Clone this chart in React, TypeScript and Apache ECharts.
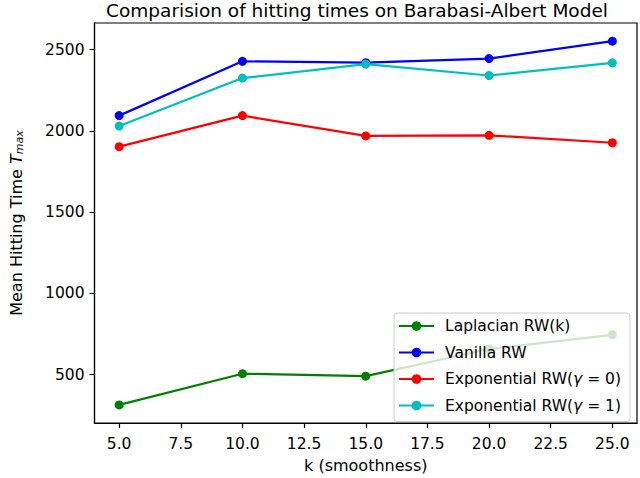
import React, { useEffect, useRef } from "react";
import * as echarts from "echarts";

const kValues = [5, 10, 15, 20, 25];
const laplacian = [314, 506, 491, 658, 745];
const vanilla = [2094, 2428, 2420, 2445, 2552];
const expGamma0 = [1903, 2094, 1969, 1973, 1927];
const expGamma1 = [2030, 2325, 2411, 2341, 2419];

const xTicks = [5, 7.5, 10, 12.5, 15, 17.5, 20, 22.5, 25];
const yTicks = [500, 1000, 1500, 2000, 2500];

const seriesNames = [
  "Laplacian RW(k)",
  "Vanilla RW",
  "Exponential RW(γ = 0)",
  "Exponential RW(γ = 1)",
];
const seriesColors = ["#008000", "#0000ff", "#ff0000", "#00bfbf"];

const FONT = "DejaVu Sans";

export default function App() {
  const ref = useRef<HTMLDivElement>(null);
  useEffect(() => {
    if (!ref.current) return;
    const chart = echarts.init(ref.current, null, { renderer: "svg" });
    const allSeries = [laplacian, vanilla, expGamma0, expGamma1];
    const all = allSeries.flat();
    const dMin = Math.min(...all);
    const dMax = Math.max(...all);
    const pad = (dMax - dMin) * 0.05;
    const xPad = (kValues[kValues.length - 1] - kValues[0]) * 0.05;

    chart.setOption({
      animation: false,
      textStyle: { fontFamily: FONT },
      title: {
        text: "Comparision of hitting times on Barabasi-Albert Model",
        left: 357,
        top: 1,
        padding: 0,
        textAlign: "center",
        textStyle: { fontFamily: FONT, fontSize: 18.5, fontWeight: "normal", color: "#000" },
      },
      grid: {
        left: 77,
        right: 3,
        top: 23,
        bottom: 48,
        show: true,
        borderColor: "#000",
        borderWidth: 1.2,
        containLabel: false,
      },
      legend: {
        orient: "vertical",
        left: 394,
        top: 313,
        padding: [5, 9, 8, 4],
        itemGap: 10.5,
        itemWidth: 35,
        itemHeight: 12,
        backgroundColor: "rgba(255,255,255,0.8)",
        borderColor: "#cccccc",
        borderWidth: 1,
        borderRadius: 3,
        data: seriesNames,
        formatter: (name: string) => name.replace("γ", "{g|γ}"),
        textStyle: {
          fontFamily: FONT,
          fontSize: 15.5,
          color: "#000",
          padding: [0, 0, 0, 6],
          rich: {
            g: { fontFamily: FONT, fontSize: 15.5, fontStyle: "italic", color: "#000" },
          },
        },
      },
      xAxis: {
        type: "value",
        min: kValues[0] - xPad,
        max: kValues[kValues.length - 1] + xPad,
        name: "k (smoothness)",
        nameLocation: "middle",
        nameGap: 33,
        nameTextStyle: { fontFamily: FONT, fontSize: 16, color: "#000" },
        axisLine: { show: true, onZero: false, lineStyle: { color: "#000", width: 1.2 } },
        axisTick: {
          show: true,
          length: 5,
          lineStyle: { color: "#000", width: 1.2 },
          customValues: xTicks,
        },
        axisLabel: {
          fontFamily: FONT,
          fontSize: 15.5,
          color: "#000",
          margin: 13,
          customValues: xTicks,
          formatter: (v: number) => v.toFixed(1),
        },
        splitLine: { show: false },
      },
      yAxis: {
        type: "value",
        min: dMin - pad,
        max: dMax + pad,
        name: "Mean Hitting Time {i|T}{s|max}",
        nameLocation: "middle",
        nameGap: 70,
        nameRotate: 90,
        nameTextStyle: {
          fontFamily: FONT,
          fontSize: 16,
          color: "#000",
          rich: {
            i: { fontFamily: FONT, fontSize: 16, fontStyle: "italic", color: "#000" },
            s: {
              fontFamily: FONT,
              fontSize: 11,
              fontStyle: "italic",
              color: "#000",
              verticalAlign: "bottom",
              padding: [6, 0, 0, 0],
            },
          },
        },
        axisLine: { show: true, lineStyle: { color: "#000", width: 1.2 } },
        axisTick: {
          show: true,
          length: 5,
          lineStyle: { color: "#000", width: 1.2 },
          customValues: yTicks,
        },
        axisLabel: {
          fontFamily: FONT,
          fontSize: 15.5,
          color: "#000",
          margin: 10,
          customValues: yTicks,
          formatter: (v: number) => String(v),
        },
        splitLine: { show: false },
      },
      series: allSeries.map((vals, i) => ({
        name: seriesNames[i],
        type: "line",
        data: kValues.map((k, j) => [k, vals[j]]),
        symbol: "circle",
        symbolSize: 9,
        showSymbol: true,
        lineStyle: { color: seriesColors[i], width: 2.2 },
        itemStyle: { color: seriesColors[i] },
        emphasis: { disabled: true },
      })),
    });
    return () => chart.dispose();
  }, []);
  return (
    <div
      ref={ref}
      style={{ position: "fixed", left: 0, top: 0, width: 640, height: 478, background: "#fff" }}
    />
  );
}
